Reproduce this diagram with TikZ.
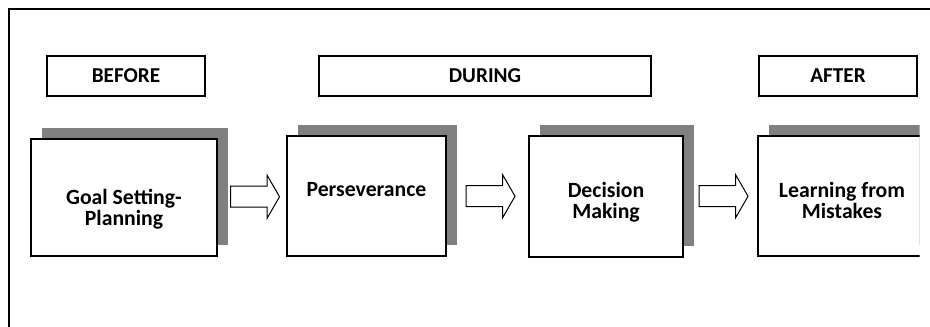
\documentclass[tikz,border=0pt]{standalone}
\usepackage{fontspec}
\setmainfont{Carlito}
\usepackage{tikz}
\usetikzlibrary{arrows,shapes,positioning,shadows,calc}

\definecolor{shadowgray}{RGB}{128,128,128}

\begin{document}
\begin{tikzpicture}
			[x=0.75pt, y=-0.75pt,
			phase/.style={rectangle, draw, line width=0.8pt, minimum height=30pt, font=\bfseries\fontsize{15.9}{17}\selectfont},
			stepbox/.style={rectangle, draw, fill=white, line width=0.8pt, general shadow={fill=shadowgray, shadow xshift=8.25pt, shadow yshift=7.9pt}},
			steptext/.style={anchor=north, yshift=-35pt, align=center, inner sep=0pt, font=\bfseries\fontsize{16.3}{15.75}\selectfont},
			blockarrow/.style={single arrow, draw, fill=white, line width=0.75pt, inner xsep=0pt, inner ysep=7.5pt, minimum height=36.75pt, single arrow head extend=8.25pt, single arrow tip angle=120},]
			\useasboundingbox (0,0) rectangle (930,327);
			\draw[line width=1.5pt] (9,327) -- (9,9) -- (930,9);
			\begin{scope}
			\clip (0,0) rectangle (919.5,327);
			\node[phase, minimum width=118.5pt] (before) at (126,76) {BEFORE};
			\node[phase, minimum width=249pt] (during) at (485,76) {DURING};
			\node[phase, minimum width=118.5pt] (after) at (838,76) {AFTER};
			\node[stepbox, minimum width=139.5pt, minimum height=87.75pt, label={[steptext, yshift=-3pt]north:{Goal Setting-\\Planning}}] (S1) at (124,197.5) {};
			\node[stepbox, minimum width=119.25pt, minimum height=90pt, label={[steptext]north:{Perseverance}}] (S2) at (366.5,196) {};
			\node[stepbox, minimum width=115.5pt, minimum height=90.75pt, label={[steptext]north:{Decision\\Making}}] (S3) at (606,196.5) {};
			\node[stepbox, minimum width=126pt, minimum height=90pt, label={[steptext]north:{Learning from\\Mistakes}}] (S4) at (842,196) {};
			\node[blockarrow] (A1) at ($(S1.east)!0.5!(S2.west)$) {};
			\node[blockarrow] (A2) at ($(S2.east)!0.5!(S3.west)$) {};
			\node[blockarrow] (A3) at ($(S3.east)!0.5!(S4.west)$) {};
			\end{scope}
			\end{tikzpicture}
\end{document}
